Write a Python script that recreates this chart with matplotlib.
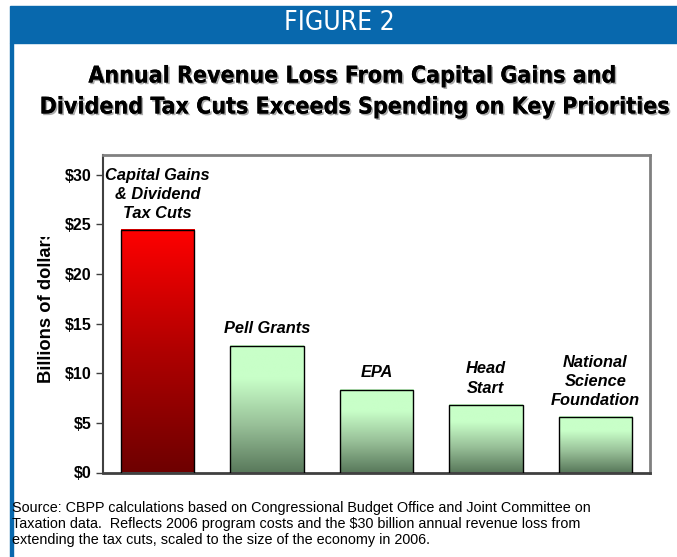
import numpy as np
import matplotlib
matplotlib.use("Agg")
import matplotlib.pyplot as plt
import matplotlib.patheffects as pe
from matplotlib.patches import Rectangle
from matplotlib.colors import LinearSegmentedColormap

# Data (billions of dollars, 2006)
categories = ["Capital Gains\n& Dividend\nTax Cuts", "Pell Grants", "EPA",
              "Head\nStart", "National\nScience\nFoundation"]
values = [24.4, 12.8, 8.35, 6.8, 5.55]
tick_values = [0, 5, 10, 15, 20, 25, 30]
tick_labels = ["$0", "$5", "$10", "$15", "$20", "$25", "$30"]

BLUE = "#0868ad"
ARIAL = ["Liberation Sans", "DejaVu Sans"]

fig = plt.figure(figsize=(6.77, 5.57), dpi=100)
W, H = 677, 557

def fx(px):
    return px / W

def fy(py):
    return 1 - py / H

# Header band and left border
fig.patches.append(Rectangle((fx(10), fy(43)), 1 - fx(10), fy(6) - fy(43),
                             transform=fig.transFigure, color=BLUE, zorder=0))
fig.patches.append(Rectangle((fx(10), 0), fx(2.5), fy(43),
                             transform=fig.transFigure, color=BLUE, zorder=0))

fig.text(fx(339), fy(23), "FIGURE 2", color="white", fontsize=19,
         family="DejaVu Sans", fontstretch="condensed", ha="center", va="center")

shadow = [pe.withSimplePatchShadow(offset=(1.2, -1.2), shadow_rgbFace="#888888", alpha=0.7),
          pe.Normal()]
title_kw = dict(fontsize=16.6, fontweight="bold", family="DejaVu Sans",
                fontstretch="condensed", ha="center", va="center", path_effects=shadow)
fig.text(fx(352), fy(76), "Annual Revenue Loss From Capital Gains and", **title_kw)
fig.text(fx(354), fy(107), "Dividend Tax Cuts Exceeds Spending on Key Priorities", **title_kw)

ax = fig.add_axes([fx(103), fy(472.5), fx(650) - fx(103), fy(155) - fy(472.5)])
ax.set_xlim(-0.5, len(values) - 0.5)
ax.set_ylim(0, 32)

red_cmap = LinearSegmentedColormap.from_list("red", ["#6e0000", "#b00000", "#ff0000"])
green_cmap = LinearSegmentedColormap.from_list("green", ["#5a7a5c", "#98c098", "#c8ffc8"])

width = 0.67
grad = np.linspace(0, 1, 256).reshape(-1, 1)
for i, v in enumerate(values):
    cmap = red_cmap if i == 0 else green_cmap
    g = grad if i == 0 else np.clip(grad * 1.35, 0, 1)
    ax.imshow(g, cmap=cmap, origin="lower", aspect="auto", vmin=0, vmax=1,
              extent=(i - width / 2, i + width / 2, 0, v), zorder=2)
bars = ax.bar(range(len(values)), values, width=width, fill=False,
              edgecolor="black", linewidth=1.0, zorder=3)

for i, (label, v) in enumerate(zip(categories, values)):
    ax.annotate(label, (i, v), xytext=(0, 9), textcoords="offset points",
                ha="center", va="baseline", fontsize=11.8, fontweight="bold",
                style="italic", family=ARIAL, linespacing=1.35, zorder=4)

ax.set_xticks([])
ax.set_yticks(tick_values)
ax.set_yticklabels(tick_labels, fontsize=11.5, fontweight="bold", family=ARIAL)
ax.tick_params(axis="y", length=5, width=1, color="#404040", pad=3)
for side in ["top", "right"]:
    ax.spines[side].set_color("#808080")
    ax.spines[side].set_linewidth(2)
ax.spines["left"].set_color("#404040")
ax.spines["left"].set_linewidth(1.5)
ax.spines["bottom"].set_color("#404040")
ax.spines["bottom"].set_linewidth(2)

# Axis title, cut off at its top edge
ylab = fig.text(fx(46), fy(383), "Billions of dollars", rotation=90,
                fontsize=13.2, fontweight="bold", family=ARIAL,
                ha="left", va="center", rotation_mode="anchor")
clip = Rectangle((0, 0), 1, fy(237), transform=fig.transFigure)
ylab.set_clip_path(clip)

source = ("Source: CBPP calculations based on Congressional Budget Office and Joint Committee on\n"
          "Taxation data.  Reflects 2006 program costs and the $30 billion annual revenue loss from\n"
          "extending the tax cuts, scaled to the size of the economy in 2006.")
fig.text(fx(12), fy(501), source, fontsize=10.4, family=ARIAL, ha="left", va="top",
         linespacing=1.2)

fig.savefig("out.png", dpi=100)
